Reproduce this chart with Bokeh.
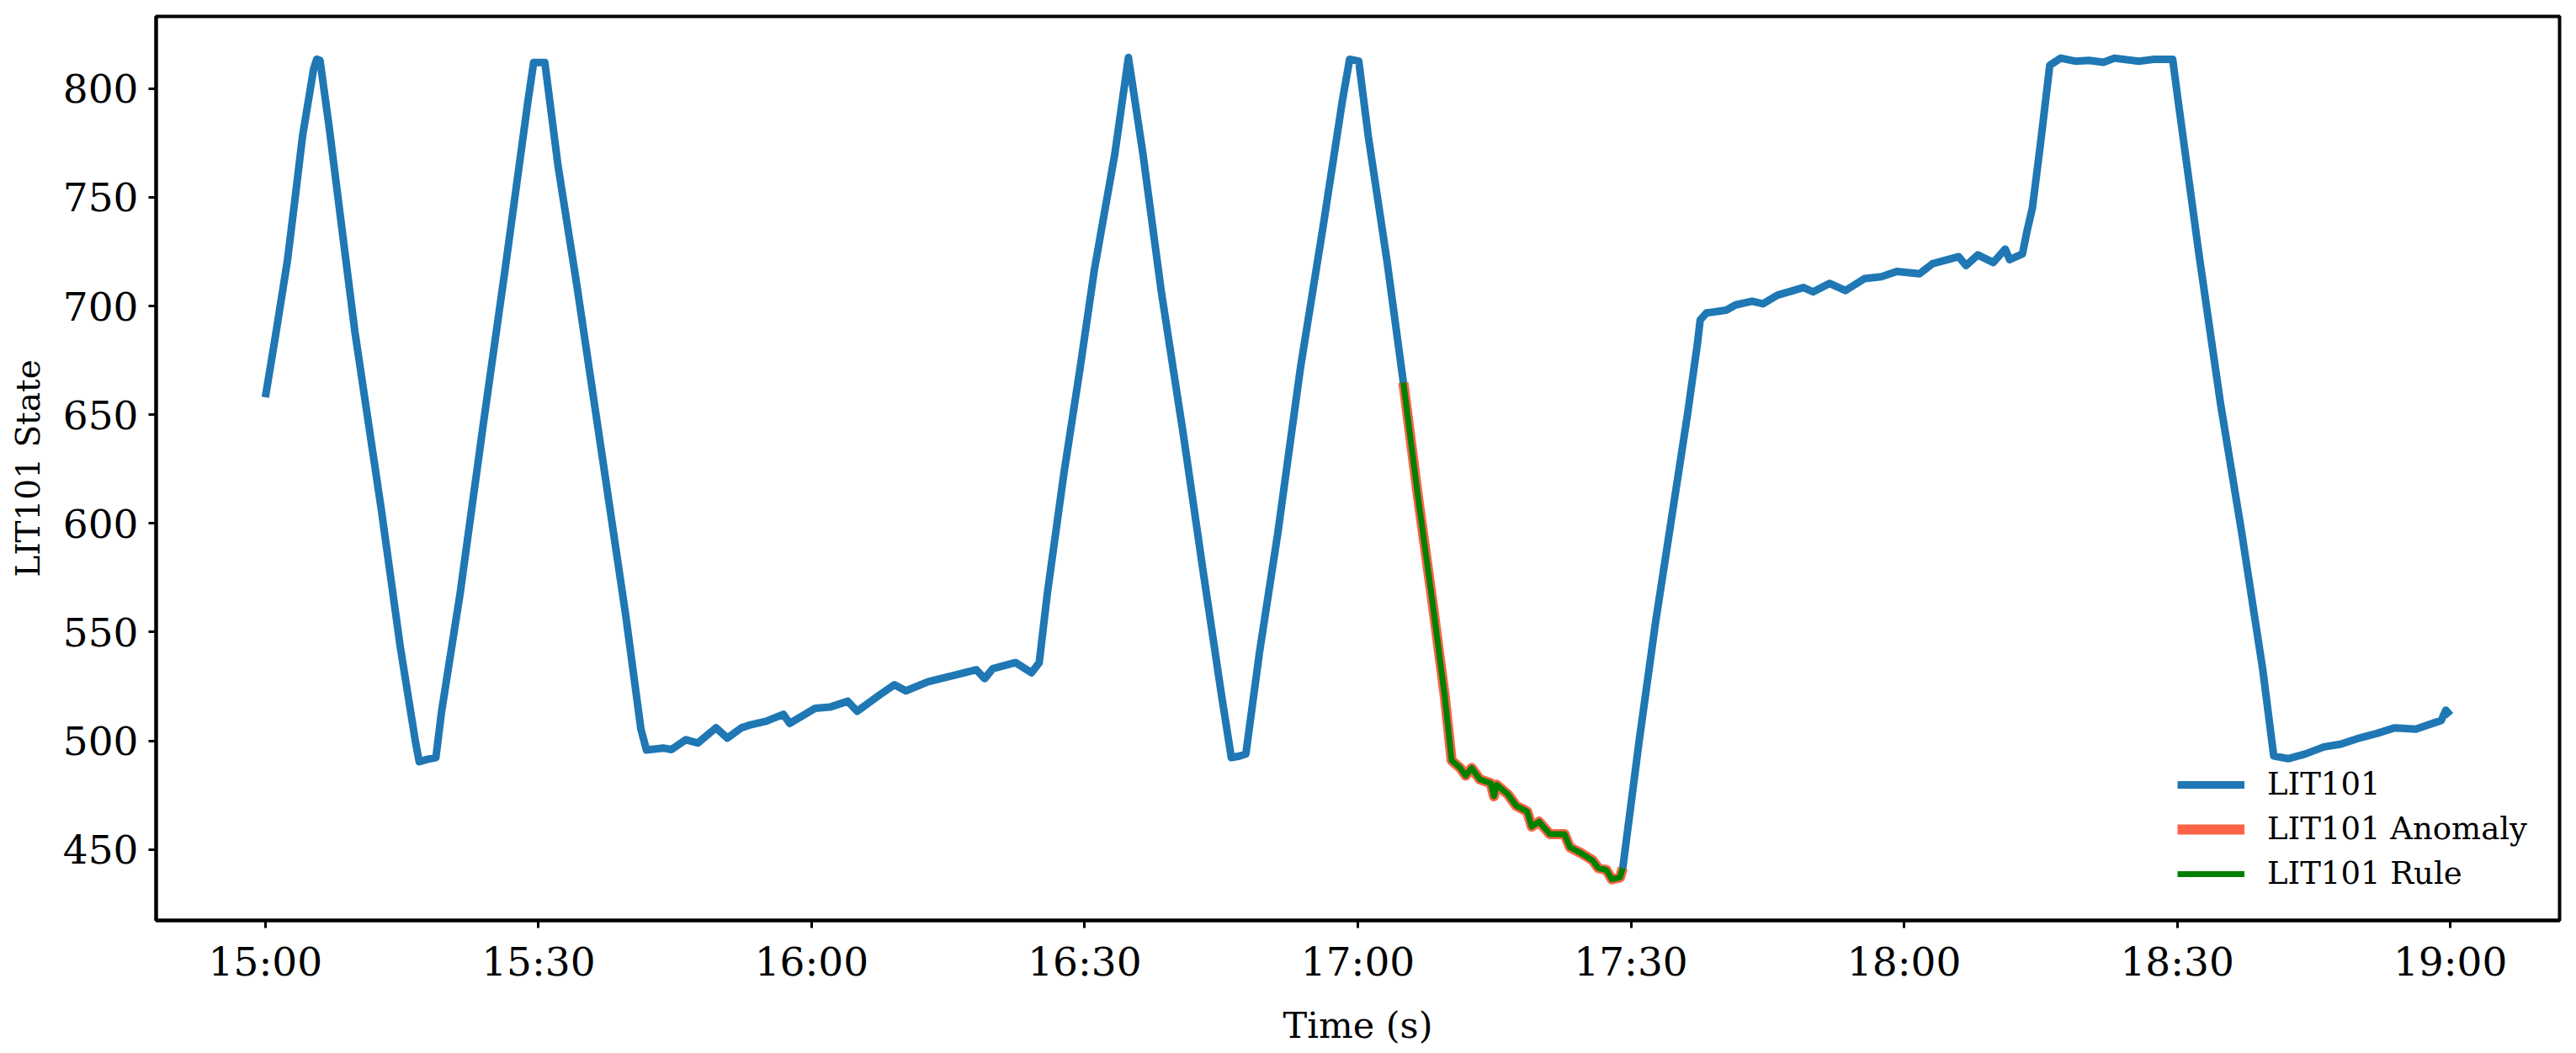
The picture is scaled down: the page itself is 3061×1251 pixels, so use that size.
import pandas as pd
from bokeh.plotting import figure
from bokeh.models import Range1d, FixedTicker, Legend, LegendItem
from bokeh.embed import file_html
from bokeh.resources import INLINE

# ---------------- data ----------------
day = "2017-01-01 "
t0 = "15:00"
# minutes after 15:00
lit_minutes = [0.0, 1.18, 2.42, 3.25, 4.08, 5.3, 5.64, 6.0, 6.97, 9.84, 12.75, 14.81,
               16.47, 16.9, 17.8, 18.73, 19.36, 21.4, 23.9, 26.37, 28.85, 29.47, 30.7, 32.15,
               34.2, 37.1, 39.6, 41.25, 41.86, 43.7, 44.6, 46.2, 47.5, 49.5, 50.74, 52.3, 53.4,
               55.0, 56.9, 57.6, 60.4, 62.0, 63.97, 65.0, 67.5, 69.1, 70.35, 72.8, 76.0, 78.1,
               79.0, 79.9, 82.4, 84.15, 85.0, 85.9, 87.7, 89.5, 91.06, 93.3, 94.8, 96.4, 98.4,
               100.9, 102.97, 105.0, 106.1, 107.0, 107.7, 109.2, 111.2, 113.7, 116.2, 118.3,
               119.1, 120.1, 121.15, 123.2, 125.0, 126.6, 128.2, 129.55, 130.3, 131.25, 131.85,
               132.5, 133.4, 134.6, 134.95, 135.25, 136.5, 137.4, 138.6, 139.1, 139.9, 141.1,
               142.7, 143.3, 144.5, 145.8, 146.4, 147.3, 147.9, 148.8, 149.1, 150.9, 152.7,
               154.4, 156.2, 157.3, 157.6, 158.3, 160.45, 161.5, 163.3, 164.5, 166.1, 168.95,
               170.0, 171.8, 173.55, 175.65, 177.5, 179.2, 181.7, 183.1, 186.0, 186.8, 188.1,
               189.8, 191.1, 191.6, 193.0, 193.5, 194.1, 195.0, 196.0, 197.2, 198.8, 200.3,
               201.9, 203.1, 205.8, 207.5, 209.5, 210.1, 212.4, 214.75, 217.1, 219.4, 220.6,
               222.2, 224.1, 226.1, 228.0, 230.0, 232.0, 233.9, 236.2, 239.0, 239.5, 240.0]
lit_values = [658, 688, 720.8, 749, 778, 809, 813.5, 813, 783.5, 688, 606, 543.5,
              500, 490.4, 491.5, 492.3, 513.6, 568, 644.5, 718, 794.4, 812, 812, 764.4,
              710, 628, 557.2, 505.4, 495.8, 496.7, 496, 500.5, 499, 506, 501.3, 506, 507.5,
              509, 512.2, 508, 515, 515.5, 518.2, 513.6, 521.2, 525.8, 523, 527.2, 530.5, 532.7,
              528.6, 533.2, 536, 531.3, 536, 568, 622.6, 671.7, 716.7, 769.8, 814.3, 769.8, 707,
              639, 579, 521.7, 492.3, 493, 494, 540.8, 595.3, 671.7, 737, 794.4,
              813.5, 812.6, 778, 720.8, 664.8, 612.4, 563.8, 520.4, 491, 487.5, 484,
              487.5, 482.3, 480.5, 474.5, 479.8, 475.3, 470.1, 467.5, 460.6, 462.8, 457.1,
              457.1, 451, 448.4, 445, 441.5, 440.6, 436.3, 437.2, 441.5, 500, 554.5,
              600.8, 649.9, 682.6, 693.5, 696.8, 698.1, 700.5, 702.2, 701, 705, 708.5,
              706.5, 710.4, 707.1, 712.6, 713.5, 715.9, 714.8, 719.4, 722.7, 718.6, 723.5,
              720, 726.2, 721.3, 724, 734.4, 745.3, 775.3, 810.7, 814, 812.6, 813,
              812.1, 814, 812.6, 813.5, 813.5, 794.4, 723.5, 655.3, 595.3, 532.6, 493.1,
              491.8, 494, 497.2, 498.5, 501.3, 503.5, 506, 505.4, 509.4, 514.1, 511.7]
anomaly_start_min = 125.0
anomaly_end_min = 149.1
tick_labels = ["15:00", "15:30", "16:00", "16:30", "17:00", "17:30", "18:00", "18:30", "19:00"]
y_ticks = [450, 500, 550, 600, 650, 700, 750, 800]
series_names = ["LIT101", "LIT101 Anomaly", "LIT101 Rule"]

# ---------------- build ----------------
base = pd.Timestamp(day + t0)
x_all = base + pd.to_timedelta(lit_minutes, unit="m")
df = pd.DataFrame({"x": x_all, "y": lit_values, "m": lit_minutes})
an = df[(df.m >= anomaly_start_min) & (df.m <= anomaly_end_min)]

def ms(ts):
    return ts.value / 1e6

xmin, xmax = ms(df.x.min()), ms(df.x.max())
ymin, ymax = min(lit_values), max(lit_values)
px = 0.05 * (xmax - xmin)
py = 0.05 * (ymax - ymin)

FONT = "DejaVu Serif"

p = figure(frame_width=2856, frame_height=1074, output_backend="svg", toolbar_location=None,
           x_axis_type="datetime",
           x_range=Range1d(xmin - px, xmax + px), y_range=Range1d(ymin - py, ymax + py),
           min_border_left=185, min_border_right=20, min_border_top=19, min_border_bottom=158)
p.background_fill_color = "white"
p.border_fill_color = "white"
p.grid.visible = False
p.outline_line_color = "black"
p.outline_line_width = 4

r_main = p.line(df.x, df.y, line_color="#1f77b4", line_width=9, line_join="round")
r_anom = p.line(an.x, an.y, line_color="#ff6347", line_width=12, line_join="round")
r_rule = p.line(an.x, an.y, line_color="#008000", line_width=7, line_join="round")

tick_ms = [ms(pd.Timestamp(day + s)) for s in tick_labels]
p.xaxis.ticker = FixedTicker(ticks=tick_ms)
p.xaxis.major_label_overrides = {t: s for t, s in zip(tick_ms, tick_labels)}
p.yaxis.ticker = FixedTicker(ticks=y_ticks)

for ax in (p.xaxis[0], p.yaxis[0]):
    ax.axis_line_color = "black"
    ax.axis_line_width = 4
    ax.major_tick_line_color = "black"
    ax.major_tick_line_width = 3
    ax.major_tick_out = 9
    ax.major_tick_in = 0
    ax.minor_tick_line_color = None
    ax.major_label_text_font = FONT
    ax.major_label_text_font_size = "47px"
    ax.major_label_text_color = "black"
    ax.axis_label_text_font = FONT
    ax.axis_label_text_font_style = "normal"
    ax.axis_label_text_color = "black"

p.xaxis.axis_label = "Time (s)"
p.yaxis.axis_label = "LIT101 State"
p.xaxis.axis_label_text_font_size = "43px"
p.yaxis.axis_label_text_font_size = "39px"
p.xaxis.major_label_standoff = 12
p.yaxis.major_label_standoff = 12
p.xaxis.axis_label_standoff = 20
p.yaxis.axis_label_standoff = 16

legend = Legend(items=[LegendItem(label=series_names[0], renderers=[r_main]),
                       LegendItem(label=series_names[1], renderers=[r_anom]),
                       LegendItem(label=series_names[2], renderers=[r_rule])],
                location=(2402, 34))
legend.background_fill_alpha = 0
legend.border_line_color = None
legend.padding = 0
legend.margin = 0
legend.glyph_width = 80
legend.glyph_height = 40
legend.label_height = 40
legend.spacing = 10
legend.label_standoff = 27
legend.label_text_font = FONT
legend.label_text_font_size = "37px"
legend.label_text_color = "black"
p.add_layout(legend)

open("out.html", "w").write(file_html(p, INLINE))
